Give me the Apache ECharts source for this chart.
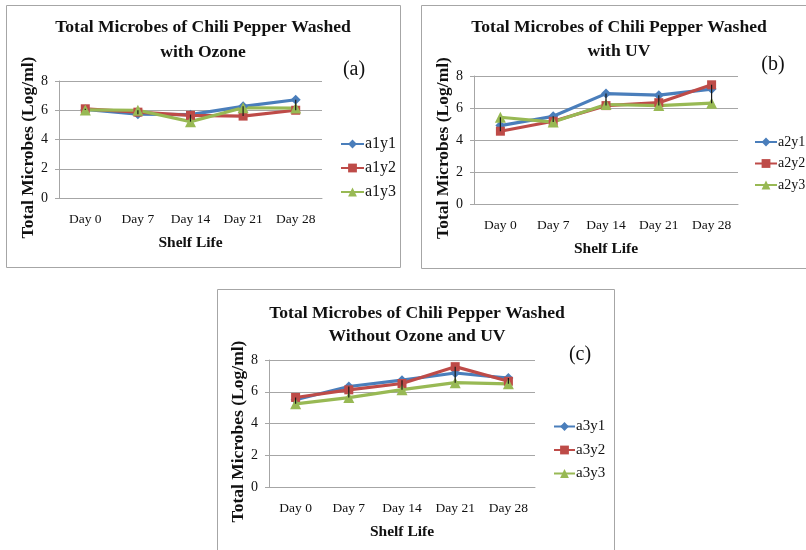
<!DOCTYPE html>
<html>
<head>
<meta charset="utf-8">
<script src="https://cdn.jsdelivr.net/npm/echarts@6/dist/echarts.min.js"></script>
<style>
html,body{margin:0;padding:0;background:#fff;}
#chart{width:806px;height:550px;}
</style>
</head>
<body>
<div id="chart"></div>
<script>
// ---- data ----
var days = ['Day 0', 'Day 7', 'Day 14', 'Day 21', 'Day 28'];
var yTicks = [0, 2, 4, 6, 8];

var a1y1 = [6.05, 5.73, 5.70, 6.27, 6.72];
var a1y2 = [6.10, 5.87, 5.65, 5.60, 6.00];
var a1y3 = [6.02, 6.00, 5.22, 6.17, 6.15];

var a2y1 = [4.90, 5.48, 6.90, 6.80, 7.18];
var a2y2 = [4.55, 5.17, 6.15, 6.33, 7.45];
var a2y3 = [5.42, 5.12, 6.22, 6.15, 6.30];

var a3y1 = [5.50, 6.33, 6.73, 7.18, 6.86];
var a3y2 = [5.64, 6.12, 6.52, 7.58, 6.66];
var a3y3 = [5.24, 5.63, 6.13, 6.57, 6.50];

var titleA = 'Total Microbes of Chili Pepper Washed\nwith Ozone';
var titleB = 'Total Microbes of Chili Pepper Washed\nwith UV';
var titleC = 'Total Microbes of Chili Pepper Washed\nWithout Ozone and UV';
var yName = 'Total Microbes (Log/ml)';
var xName = 'Shelf Life';

// ---- styling ----
var SERIF = '"Liberation Serif", "Times New Roman", serif';
var BLUE = '#4A7EBB', RED = '#BE4B48', GREEN = '#98B954';
var GRIDC = '#a6a6a6';

var panels = [
  {grid: {left: 59, top: 81, width: 263, height: 117},
   title: {x: 203, y: 15, lh: 25, text: titleA},
   tag: {x: 354, y: 70, text: '(a)'},
   legend: {left: 340, top: 136, gap: 8, fs: 16, iw: 23},
   names: ['a1y1', 'a1y2', 'a1y3'], data: [a1y1, a1y2, a1y3]},
  {grid: {left: 474, top: 76, width: 264, height: 128},
   title: {x: 619, y: 15, lh: 24, text: titleB},
   tag: {x: 773, y: 65, text: '(b)'},
   legend: {left: 754, top: 135, gap: 7.5, fs: 14, iw: 22},
   names: ['a2y1', 'a2y2', 'a2y3'], data: [a2y1, a2y2, a2y3]},
  {grid: {left: 269, top: 360, width: 266, height: 127},
   title: {x: 417, y: 302, lh: 23, text: titleC},
   tag: {x: 580, y: 355, text: '(c)'},
   legend: {left: 553, top: 419, gap: 8.5, fs: 15, iw: 21},
   names: ['a3y1', 'a3y2', 'a3y3'], data: [a3y1, a3y2, a3y3]}
];
var colors = [BLUE, RED, GREEN];
var symbols = ['diamond', 'rect', 'triangle'];
var symbolSizes = [10, 9, 11];

var option = {
  backgroundColor: '#fff',
  animation: false,
  title: [], grid: [], xAxis: [], yAxis: [], legend: [], series: [],
  graphic: [
    {type: 'rect', shape: {x: 6.5, y: 5.5, width: 394, height: 262}, style: {fill: 'none', stroke: GRIDC, lineWidth: 1}, z: 0},
    {type: 'rect', shape: {x: 421.5, y: 5.5, width: 400, height: 263}, style: {fill: 'none', stroke: GRIDC, lineWidth: 1}, z: 0},
    {type: 'rect', shape: {x: 217.5, y: 289.5, width: 397, height: 300}, style: {fill: 'none', stroke: GRIDC, lineWidth: 1}, z: 0}
  ]
};

panels.forEach(function (p, i) {
  option.title.push({
    text: p.title.text, left: p.title.x, top: p.title.y, padding: 0,
    textAlign: 'center',
    textStyle: {fontFamily: SERIF, fontWeight: 'bold', fontSize: 17.6, color: '#111', lineHeight: p.title.lh}
  });
  option.graphic.push({
    type: 'text', x: p.tag.x, y: p.tag.y,
    style: {text: p.tag.text, font: '20px ' + SERIF, fill: '#111', align: 'center', verticalAlign: 'middle'}
  });
  option.grid.push(p.grid);
  option.xAxis.push({
    type: 'category', gridIndex: i, data: days, boundaryGap: true,
    name: xName, nameLocation: 'middle', nameGap: 37,
    nameTextStyle: {fontFamily: SERIF, fontWeight: 'bold', fontSize: 15.5, color: '#111'},
    axisLine: {lineStyle: {color: GRIDC, width: 1}},
    axisTick: {show: false},
    axisLabel: {fontFamily: SERIF, fontSize: 13.5, color: '#111', margin: 14, interval: 0}
  });
  option.yAxis.push({
    type: 'value', gridIndex: i, min: yTicks[0], max: yTicks[yTicks.length - 1], interval: 2,
    name: yName, nameLocation: 'middle', nameGap: 19, nameRotate: 90,
    nameTextStyle: {fontFamily: SERIF, fontWeight: 'bold', fontSize: 17.5, color: '#111', padding: [0, 16, 0, 0]},
    axisLine: {show: true, lineStyle: {color: GRIDC, width: 1}},
    axisTick: {show: true, length: 4, lineStyle: {color: GRIDC}},
    splitLine: {show: true, lineStyle: {color: GRIDC, width: 1}},
    axisLabel: {fontFamily: SERIF, fontSize: 14, color: '#111', margin: 11}
  });
  option.legend.push({
    orient: 'vertical', left: p.legend.left, top: p.legend.top, itemGap: p.legend.gap,
    itemWidth: p.legend.iw, itemHeight: 11, padding: 0,
    data: p.names,
    textStyle: {fontFamily: SERIF, fontSize: p.legend.fs, color: '#111', padding: [0, 0, 0, -4]}
  });
  p.names.forEach(function (nm, k) {
    option.series.push({
      type: 'line', name: nm, xAxisIndex: i, yAxisIndex: i,
      data: p.data[k],
      symbol: symbols[k], symbolSize: symbolSizes[k],
      color: colors[k],
      lineStyle: {width: 3.2, color: colors[k]},
      itemStyle: {color: colors[k]},
      z: 2
    });
  });
  // high-low lines (max to min across the three series at each category)
  var hl = days.map(function (d, j) {
    var vals = p.data.map(function (arr) { return arr[j]; });
    return [j, Math.min.apply(null, vals), Math.max.apply(null, vals)];
  });
  option.series.push({
    type: 'custom', name: 'hl' + i, xAxisIndex: i, yAxisIndex: i,
    data: hl, encode: {x: 0, y: [1, 2]}, silent: true, z: 3,
    renderItem: function (params, api) {
      var lo = api.coord([api.value(0), api.value(1)]);
      var hi = api.coord([api.value(0), api.value(2)]);
      return {type: 'line', shape: {x1: lo[0], y1: lo[1], x2: hi[0], y2: hi[1]},
              style: {stroke: '#1a1a1a', lineWidth: 1.2}};
    }
  });
});

var chart = echarts.init(document.getElementById('chart'), null, {renderer: 'canvas'});
chart.setOption(option);
</script>
</body>
</html>
